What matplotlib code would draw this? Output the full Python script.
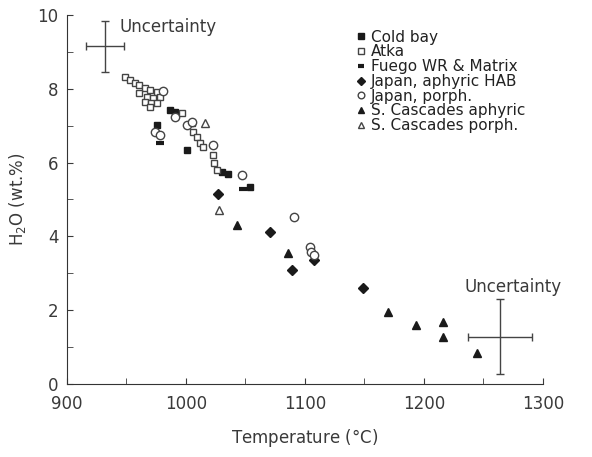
import matplotlib.pyplot as plt
from matplotlib.ticker import MultipleLocator

plt.rcParams['font.family'] = ['DejaVu Sans']

# data: temperature (C), H2O (wt.%)
cold_bay_t = [976, 987, 991, 1001, 1030, 1035, 1054]
cold_bay_h = [7.02, 7.43, 7.38, 6.34, 5.75, 5.69, 5.34]

atka_t = [949, 953, 957, 961, 966, 970, 976, 961, 967, 972, 978, 966, 971, 976, 970,
          997, 1005, 1006, 1009, 1012, 1014, 1023, 1024, 1026]
atka_h = [8.32, 8.24, 8.15, 8.10, 8.02, 7.97, 7.91, 7.88, 7.78, 7.75, 7.78, 7.64, 7.62, 7.62, 7.50,
          7.34, 7.07, 6.83, 6.70, 6.53, 6.42, 6.20, 5.99, 5.80]

fuego_t = [978, 1048]
fuego_h = [6.53, 5.28]

japan_hab_t = [1027, 1071, 1089, 1108, 1149]
japan_hab_h = [5.15, 4.12, 3.09, 3.36, 2.60]

japan_por_t = [981, 991, 974, 978, 1001, 1005, 1023, 1047, 1091, 1104, 1105, 1108]
japan_por_h = [7.94, 7.24, 6.83, 6.75, 7.02, 7.10, 6.48, 5.66, 4.53, 3.71, 3.58, 3.50]

casc_aph_t = [1043, 1086, 1170, 1193, 1216, 1216, 1245]
casc_aph_h = [4.31, 3.55, 1.95, 1.60, 1.68, 1.27, 0.84]

casc_por_t = [1016, 1028]
casc_por_h = [7.07, 4.72]

# uncertainty crosses: centre and half widths
unc_t = [932, 1264]
unc_h = [9.15, 1.28]
unc_dt = [16, 27]
unc_dh = [0.7, 1.02]

fig = plt.figure(figsize=(5.92, 4.57), dpi=100)
ax = fig.add_axes([0.113, 0.160, 0.804, 0.807])

k = '#1a1a1a'
txt = '#3a3a3a'
ax.plot(cold_bay_t, cold_bay_h, 's', color=k, ms=5, ls='none', label='Cold bay')
ax.plot(atka_t, atka_h, 's', mfc='white', mec='#444444', mew=1, ms=5, ls='none', label='Atka')
ax.plot(fuego_t, fuego_h, '_', color=k, ms=6, mew=3, ls='none', label='Fuego WR & Matrix')
ax.plot(japan_hab_t, japan_hab_h, 'D', color=k, ms=5, ls='none', label='Japan, aphyric HAB')
ax.plot(japan_por_t, japan_por_h, 'o', mfc='white', mec='#444444', mew=1, ms=6, ls='none',
        label='Japan, porph.')
ax.plot(casc_aph_t, casc_aph_h, '^', color=k, ms=6, ls='none', label='S. Cascades aphyric')
ax.plot(casc_por_t, casc_por_h, '^', mfc='white', mec='#444444', mew=1, ms=6, ls='none',
        label='S. Cascades porph.')

ax.errorbar(unc_t, unc_h, xerr=unc_dt, yerr=unc_dh, fmt='none', ecolor='#444444',
            elinewidth=1, capsize=3)
ax.text(944, 9.68, 'Uncertainty', fontsize=12, color=txt, va='center')
ax.text(1234, 2.63, 'Uncertainty', fontsize=12, color=txt, va='center')

ax.set_xlim(900, 1300)
ax.set_ylim(0, 10)
ax.xaxis.set_major_locator(MultipleLocator(100))
ax.xaxis.set_minor_locator(MultipleLocator(50))
ax.yaxis.set_major_locator(MultipleLocator(2))
ax.yaxis.set_minor_locator(MultipleLocator(1))
ax.tick_params(which='both', direction='in', colors=txt, labelsize=12, length=4)
ax.tick_params(axis='x', pad=8)
ax.tick_params(axis='y', pad=6)
for s in ['top', 'right']:
    ax.spines[s].set_visible(False)
for s in ['left', 'bottom']:
    ax.spines[s].set_color('#333333')

ax.set_xlabel('Temperature ($\\degree$C)', fontsize=12, color=txt, labelpad=10)
ax.set_ylabel('H$_2$O (wt.%)', fontsize=12, color=txt, labelpad=7)

ax.legend(loc='upper left', bbox_to_anchor=(0.59, 0.985), frameon=False, fontsize=11,
          handletextpad=0.3, handlelength=0.6, labelspacing=-0.02, markerscale=0.8,
          labelcolor='#222222', borderaxespad=0.2)

fig.savefig('out.png', dpi=100)
